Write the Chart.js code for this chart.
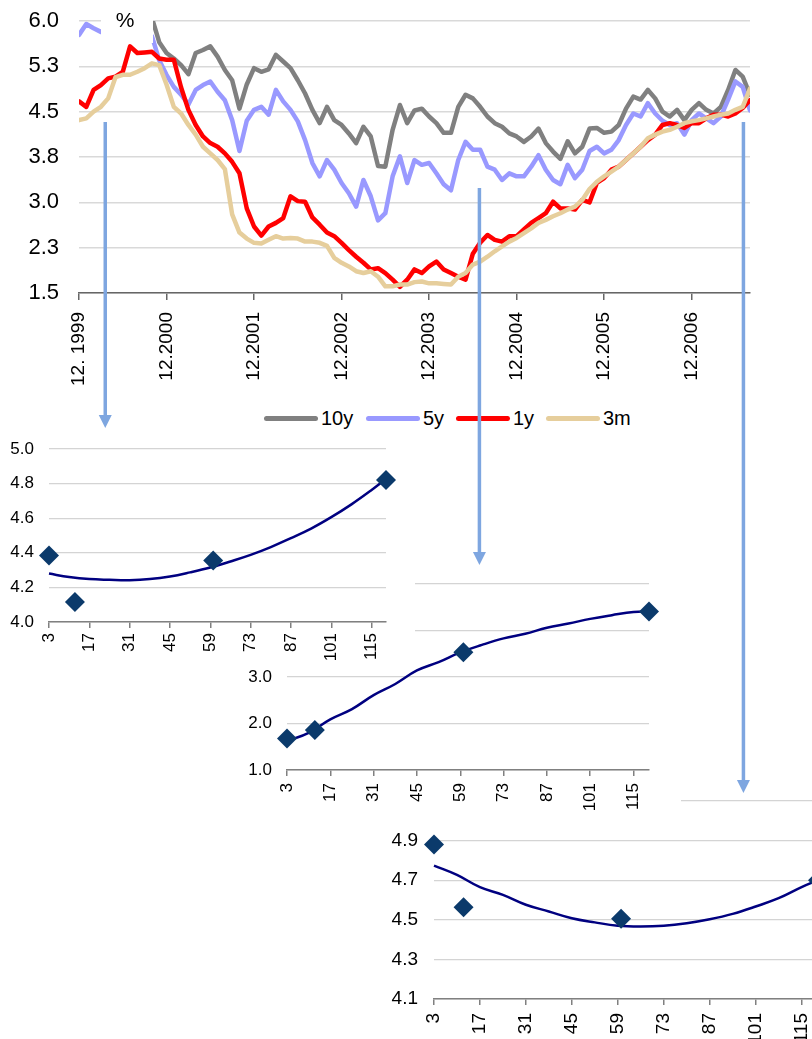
<!DOCTYPE html>
<html>
<head>
<meta charset="utf-8">
<script src="https://cdn.jsdelivr.net/npm/chart.js@4.4.1/dist/chart.umd.min.js"></script>
<style>
  html, body { margin: 0; padding: 0; background: #fff; width: 812px; height: 1039px; overflow: hidden; }
  body { position: relative; font-family: "Liberation Sans", Arial, sans-serif; }
  .box { position: absolute; background: #fff; }
  .box canvas { display: block; }
  #legend { position: absolute; left: 0; top: 405px; width: 812px; height: 26px; font-size: 20px; color: #000; }
  #legend span { position: absolute; top: 0; height: 26px; display: flex; align-items: center; }
  #legend i { display: inline-block; width: 54px; height: 5px; border-radius: 2.5px; margin-right: 3px; }
  #arrows { position: absolute; left: 0; top: 0; }
</style>
</head>
<body>
<div class="box" style="left:0;top:0;width:812px;height:395px"><canvas id="mainChart" width="812" height="395"></canvas></div>
<div id="legend">
  <span style="left:264px"><i style="background:#808080"></i>10y</span>
  <span style="left:366px"><i style="background:#9999FF"></i>5y</span>
  <span style="left:456px"><i style="background:#FF0000"></i>1y</span>
  <span style="left:546px"><i style="background:#E6CE9C"></i>3m</span>
</div>
<div class="box" style="left:390px;top:785px;width:440px;height:254px"><canvas id="curve3" width="440" height="254"></canvas></div>
<div class="box" style="left:240px;top:565px;width:441px;height:250px"><canvas id="curve2" width="441" height="250"></canvas></div>
<div class="box" style="left:0;top:435px;width:415px;height:233px"><canvas id="curve1" width="415" height="233"></canvas></div>
<canvas id="arrows" width="812" height="1039"></canvas>

<script>
// ---- Yield history, one value per month starting 12.1999 (%) ----
const tenYear = [
  6.25, 6.30, 6.35, 6.40, 6.45, 6.50, 6.45, 6.40, 6.35, 6.25,
  6.05, 5.65, 5.47, 5.38, 5.27, 5.12, 5.47, 5.52, 5.58, 5.41,
  5.19, 5.02, 4.55, 4.95, 5.22, 5.16, 5.20, 5.44, 5.33, 5.22,
  5.02, 4.80, 4.53, 4.31, 4.58, 4.36, 4.28, 4.14, 3.98, 4.25,
  4.09, 3.60, 3.59, 4.20, 4.61, 4.31, 4.52, 4.55, 4.42, 4.31,
  4.15, 4.15, 4.58, 4.78, 4.72, 4.58, 4.42, 4.31, 4.25, 4.14,
  4.09, 4.00, 4.09, 4.22, 3.98, 3.84, 3.72, 4.01, 3.81, 3.92,
  4.22, 4.23, 4.15, 4.17, 4.28, 4.55, 4.75, 4.70, 4.86, 4.72,
  4.50, 4.42, 4.53, 4.36, 4.53, 4.64, 4.53, 4.47, 4.58, 4.86,
  5.19, 5.08, 4.78
];
const fiveYear = [
  5.77, 5.95, 5.88, 5.82, 5.90, 5.95, 5.92, 5.88, 5.90, 5.85,
  5.75, 5.35, 5.11, 4.91, 4.78, 4.62, 4.86, 4.94, 5.00, 4.83,
  4.69, 4.36, 3.85, 4.35, 4.53, 4.58, 4.45, 4.86, 4.67, 4.53,
  4.34, 4.03, 3.65, 3.43, 3.70, 3.54, 3.32, 3.15, 2.93, 3.37,
  3.10, 2.70, 2.82, 3.43, 3.76, 3.32, 3.70, 3.62, 3.65, 3.48,
  3.30, 3.20, 3.70, 4.00, 3.87, 3.87, 3.59, 3.54, 3.37, 3.48,
  3.43, 3.43, 3.59, 3.78, 3.54, 3.37, 3.30, 3.62, 3.40, 3.54,
  3.85, 3.92, 3.81, 3.87, 4.03, 4.28, 4.47, 4.42, 4.64, 4.47,
  4.35, 4.28, 4.31, 4.12, 4.36, 4.47, 4.39, 4.31, 4.42, 4.70,
  5.00, 4.91, 4.52
];
const oneYear = [
  4.67, 4.58, 4.86, 4.94, 5.05, 5.08, 5.16, 5.58, 5.47, 5.48,
  5.49, 5.38, 5.36, 5.36, 4.90, 4.53, 4.28, 4.09, 3.98, 3.92,
  3.81, 3.67, 3.48, 2.90, 2.60, 2.45, 2.60, 2.66, 2.74, 3.10,
  3.02, 3.01, 2.75, 2.63, 2.50, 2.44, 2.33, 2.21, 2.10, 2.00,
  1.89, 1.91, 1.83, 1.72, 1.60, 1.72, 1.89, 1.83, 1.94, 2.02,
  1.89, 1.83, 1.77, 1.72, 2.15, 2.33, 2.46, 2.38, 2.35, 2.44,
  2.44, 2.55, 2.66, 2.74, 2.82, 3.01, 2.90, 2.90, 2.88, 3.04,
  3.00, 3.32, 3.40, 3.54, 3.59, 3.70, 3.81, 3.92, 4.03, 4.12,
  4.28, 4.31, 4.28, 4.23, 4.31, 4.31, 4.39, 4.45, 4.45, 4.42,
  4.47, 4.56, 4.69
];
const threeMonth = [
  4.36, 4.39, 4.50, 4.58, 4.72, 5.07, 5.11, 5.11, 5.16, 5.22,
  5.30, 5.27, 4.95, 4.58, 4.47, 4.28, 4.12, 3.92, 3.81, 3.70,
  3.55, 2.80, 2.50, 2.40, 2.33, 2.32, 2.38, 2.44, 2.40, 2.41,
  2.40, 2.35, 2.35, 2.33, 2.28, 2.08, 2.00, 1.94, 1.86, 1.83,
  1.86, 1.77, 1.61, 1.61, 1.64, 1.64, 1.68, 1.69, 1.66, 1.66,
  1.65, 1.64, 1.77, 1.83, 1.97, 2.02, 2.10, 2.19, 2.27, 2.35,
  2.41, 2.49, 2.57, 2.66, 2.71, 2.77, 2.82, 2.88, 2.93, 3.04,
  3.22, 3.34, 3.43, 3.51, 3.59, 3.70, 3.81, 3.92, 4.06, 4.12,
  4.17, 4.20, 4.25, 4.31, 4.34, 4.36, 4.39, 4.42, 4.45, 4.47,
  4.53, 4.58, 4.88
];
const yearTickMonths = [0, 12, 24, 36, 48, 60, 72, 84];
const yearLabels = ["12. 1999", "12.2000", "12.2001", "12.2002", "12.2003", "12.2004", "12.2005", "12.2006"];
const rateTicks = [1.5, 2.25, 3.0, 3.75, 4.5, 5.25, 6.0];

// ---- Yield curves on three dates (maturity in months, %) ----
const curveMaturities = [3, 10, 17, 24, 31, 38, 45, 52, 59, 66, 73, 80, 87, 94, 101, 108, 115, 120];
const fitEarly = [4.280, 4.260, 4.248, 4.244, 4.242, 4.248, 4.263, 4.287, 4.315, 4.350, 4.388, 4.433, 4.485, 4.540, 4.606, 4.680, 4.763, 4.827];
const fitMiddle = [1.62, 1.80, 2.09, 2.31, 2.61, 2.85, 3.14, 3.32, 3.53, 3.69, 3.83, 3.93, 4.06, 4.15, 4.25, 4.33, 4.40, 4.41];
const fitLate = [4.774, 4.727, 4.665, 4.626, 4.576, 4.542, 4.508, 4.487, 4.470, 4.466, 4.470, 4.483, 4.503, 4.530, 4.567, 4.609, 4.665, 4.700];
const quoteMaturities = [3, 12, 60, 120];
const quotesEarly = [4.385, 4.115, 4.356, 4.821];
const quotesMiddle = [1.68, 1.86, 3.53, 4.41];
const quotesLate = [4.88, 4.564, 4.505, 4.70];
const maturityTicks = [3, 17, 31, 45, 59, 73, 87, 101, 115];
const arrowMonths = [3.6, 54.9, 91.1];

const FONT = '"Liberation Sans", Arial, sans-serif';
const asPoints = (xs, ys) => ys.map((y, i) => ({ x: xs[i], y }));
const monthIndex = tenYear.map((_, i) => i);

// white text box with the unit label, drawn over the lines
const percentBox = {
  id: 'percentBox',
  afterDatasetsDraw(chart) {
    const { ctx, chartArea } = chart;
    ctx.save();
    ctx.fillStyle = '#fff';
    ctx.fillRect(chartArea.left + 22, 0, 52, 43);
    ctx.fillStyle = '#000';
    ctx.font = '21px ' + FONT;
    ctx.textAlign = 'center';
    ctx.textBaseline = 'middle';
    ctx.fillText('%', chartArea.left + 46, 21);
    ctx.restore();
  }
};

const series = [
  { label: '10y', values: tenYear, color: '#808080', order: 3 },
  { label: '5y', values: fiveYear, color: '#9999FF', order: 2 },
  { label: '1y', values: oneYear, color: '#FF0000', order: 1 },
  { label: '3m', values: threeMonth, color: '#E6CE9C', order: 0 }
];

const noOverhang = s => { s.paddingTop = 0; s.paddingBottom = 0; s.paddingLeft = 0; s.paddingRight = 0; };

const mainChart = new Chart(document.getElementById('mainChart'), {
  type: 'line',
  data: {
    datasets: series.map(s => ({
      label: s.label,
      data: asPoints(monthIndex, s.values),
      borderColor: s.color,
      backgroundColor: s.color,
      borderWidth: 4.5,
      pointRadius: 0,
      tension: 0,
      clip: 0,
      order: s.order
    }))
  },
  options: {
    responsive: false,
    animation: false,
    layout: { padding: { top: 21, right: 62, left: 0, bottom: 0 } },
    plugins: { legend: { display: false }, tooltip: { enabled: false } },
    elements: { line: { borderJoinStyle: 'round', borderCapStyle: 'round' } },
    scales: {
      x: {
        type: 'linear', min: 0, max: 92,
        afterBuildTicks: s => { s.ticks = yearTickMonths.map(v => ({ value: v })); },
        afterFit: s => { s.height = 102; noOverhang(s); },
        ticks: { autoSkip: false, maxRotation: 90, minRotation: 90, padding: 12, color: '#000',
                 font: { family: FONT, size: 19 }, callback: (v, i) => yearLabels[i] },
        grid: { drawOnChartArea: false, drawTicks: true, tickLength: 7, color: '#666', lineWidth: 1.5 },
        border: { display: true, color: '#666', width: 1.5 }
      },
      y: {
        min: 1.5, max: 6.0,
        afterBuildTicks: s => { s.ticks = rateTicks.map(v => ({ value: v })); },
        afterFit: s => { s.width = 79; noOverhang(s); },
        ticks: { padding: 20, color: '#000', font: { family: FONT, size: 22 }, callback: v => v.toFixed(1) },
        grid: { color: '#D9D9D9', lineWidth: 1.5, drawTicks: false },
        border: { display: false }
      }
    }
  },
  plugins: [percentBox]
});

function yieldCurveChart(id, fitValues, quoteValues, yMin, yMax, yStep, fontSize, lay) {
  const yTicks = [];
  for (let v = yMin; v <= yMax + 1e-9; v += yStep) yTicks.push(Math.round(v * 10) / 10);
  return new Chart(document.getElementById(id), {
    type: 'line',
    data: {
      datasets: [
        { data: asPoints(quoteMaturities, quoteValues), showLine: false, pointStyle: 'rectRot',
          pointRadius: 10, pointBackgroundColor: '#0B3A6B', pointBorderColor: '#0B3A6B', pointBorderWidth: 0,
          clip: false, order: 0 },
        { data: asPoints(curveMaturities, fitValues), borderColor: '#000080', borderWidth: 2.5,
          pointRadius: 0, tension: 0.4, order: 1, clip: false }
      ]
    },
    options: {
      responsive: false,
      animation: false,
      layout: { padding: { top: lay.top, right: lay.right, left: 0, bottom: 0 } },
      plugins: { legend: { display: false }, tooltip: { enabled: false } },
      scales: {
        x: {
          type: 'linear', min: 3, max: 120,
          afterBuildTicks: s => { s.ticks = maturityTicks.map(v => ({ value: v })); },
          afterFit: s => { s.height = lay.xh; noOverhang(s); },
          ticks: { autoSkip: false, maxRotation: 90, minRotation: 90, padding: lay.xpad, color: '#000',
                   font: { family: FONT, size: fontSize }, callback: (v, i) => String(maturityTicks[i]) },
          grid: { drawOnChartArea: false, drawTicks: true, tickLength: 6, color: '#808080', lineWidth: 1.5 },
          border: { display: true, color: '#808080', width: 1.5 }
        },
        y: {
          min: yMin, max: yMax,
          afterBuildTicks: s => { s.ticks = yTicks.map(v => ({ value: v })); },
          afterFit: s => { s.width = lay.yw; noOverhang(s); },
          ticks: { padding: lay.ypad, color: '#000', font: { family: FONT, size: fontSize }, callback: v => v.toFixed(1) },
          grid: { color: '#D4D4D4', lineWidth: 1.2, drawTicks: false },
          border: { display: false }
        }
      }
    }
  });
}

yieldCurveChart('curve3', fitLate, quotesLate, 4.1, 5.1, 0.2, 19, { top: 16, right: 12, xh: 40, yw: 44, ypad: 16, xpad: 8 });
yieldCurveChart('curve2', fitMiddle, quotesMiddle, 1.0, 5.0, 1.0, 17, { top: 19, right: 32, xh: 45, yw: 47, ypad: 15, xpad: 7 });
yieldCurveChart('curve1', fitEarly, quotesEarly, 4.0, 5.0, 0.2, 17, { top: 14, right: 29, xh: 46, yw: 49, ypad: 15, xpad: 5 });

// pointer arrows from the dates on the history chart down to each curve
(function drawArrows() {
  const ctx = document.getElementById('arrows').getContext('2d');
  const xs = arrowMonths.map(m => mainChart.scales.x.getPixelForValue(m));
  const spans = [[122, 428], [188, 565], [122, 793]];
  ctx.strokeStyle = '#7EA6E0';
  ctx.fillStyle = '#7EA6E0';
  ctx.lineWidth = 3.5;
  xs.forEach((x, i) => {
    const [y0, tip] = spans[i];
    const head = 13;
    ctx.beginPath();
    ctx.moveTo(x, y0);
    ctx.lineTo(x, tip - head + 1);
    ctx.stroke();
    ctx.beginPath();
    ctx.moveTo(x - 6.5, tip - head);
    ctx.lineTo(x + 6.5, tip - head);
    ctx.lineTo(x, tip);
    ctx.closePath();
    ctx.fill();
  });
})();
</script>
</body>
</html>
